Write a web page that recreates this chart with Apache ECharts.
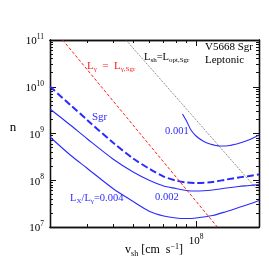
<!DOCTYPE html>
<html><head><meta charset="utf-8">
<script src="https://cdn.jsdelivr.net/npm/echarts@6/dist/echarts.min.js"></script>
<style>html,body{margin:0;padding:0;background:#fff}#c{width:269px;height:269px}</style>
</head><body><div id="c"></div>
<script>
// ---- data ----
const shockVelocity = [2e7,2.5e7,3e7,4e7,5e7,6e7,7e7,8e7,9e7,1e8,1.2e8,1.4e8,1.6e8,1.8e8,2e8];
const nSgr  = [1.01e10,4.11e9,1.98e9,6.42e8,2.92e8,1.74e8,1.20e8,9.88e7,8.95e7,8.73e7,9.18e7,1.04e8,1.15e8,1.23e8,1.33e8];
const n002  = [3.34e9,1.52e9,7.82e8,2.85e8,1.50e8,9.88e7,7.53e7,6.66e7,6.04e7,5.89e7,6.18e7,6.83e7,7.35e7,7.72e7,8.11e7];
const n004  = [8.42e8,3.47e8,1.83e8,6.66e7,3.51e7,2.15e7,1.72e7,1.56e7,1.52e7,1.56e7,1.76e7,2.15e7,2.61e7,3.10e7,3.69e7];
const v001  = [8.61e7,9.05e7,9.45e7,1.0e8,1.079e8,1.166e8,1.30e8,1.45e8,1.62e8,1.81e8,2e8];
const n001  = [2.61e9,1.76e9,1.19e9,8.85e8,6.91e8,5.96e8,5.40e8,5.54e8,6.26e8,7.44e8,9.29e8];
const vGammaSgr = [2.30e7,1.264e8];
const nGammaSgr = [1e11,1e7];
const vOptSgr = [4.62e7,2e8];
const nOptSgr = [1e11,5.7e7];
// axes
const xRange = [2e7,2e8];
const yRange = [1e7,1e11];
const xMajorTicks = [1e8];
const xMinorTicks = [3e7,4e7,5e7,6e7,7e7,8e7,9e7];
const yMajorTicks = [1e7,1e8,1e9,1e10,1e11];
const yMinorTicks = [2e7,3e7,4e7,5e7,6e7,7e7,8e7,9e7,
                     2e8,3e8,4e8,5e8,6e8,7e8,8e8,9e8,
                     2e9,3e9,4e9,5e9,6e9,7e9,8e9,9e9,
                     2e10,3e10,4e10,5e10,6e10,7e10,8e10,9e10];

const FF = 'Liberation Serif';
const BLUE = '#2a2aff';
const RED = '#ff1a1a';
const L10 = Math.log10;
const pair = (xs, ys) => xs.map((x,i)=>[x, ys[i]]);

function rich(fs, color){
  return {
    a:{fontFamily:FF,fontSize:fs,color:color,lineHeight:fs+3,verticalAlign:'middle'},
    s:{fontFamily:FF,fontSize:Math.round(fs*0.65),color:color,lineHeight:fs+3,verticalAlign:'bottom'},
    p:{fontFamily:FF,fontSize:Math.round(fs*0.65),color:color,lineHeight:fs+3,verticalAlign:'top'}
  };
}
function txt(x,y,text,fs,color,align){
  return {type:'text',x:x,y:y,z:100,style:{text:text,rich:rich(fs,color),fontFamily:FF,fontSize:fs,fill:color,align:align||'left',verticalAlign:'middle'}};
}

const axisLineStyle = {color:'#111',width:1.3};
function tickAxis(kind, pos, lo, hi, vals, len, labels){
  const ax = {
    type:'value', position:pos, min:L10(lo), max:L10(hi), gridIndex:0,
    axisLine:{show:true,onZero:false,lineStyle:axisLineStyle},
    axisTick:{show:true,inside:true,length:len,customValues:vals.map(L10),lineStyle:{color:'#111',width:1}},
    axisLabel:{show:!!labels},
    splitLine:{show:false}
  };
  if (labels){
    ax.axisLabel = {show:true, customValues:vals.map(L10), margin:6,
      formatter:v=>'{b|10}{p|'+Math.round(v)+'}',
      rich:{b:{fontFamily:FF,fontSize:11,color:'#000',lineHeight:14,verticalAlign:'bottom'},
            p:{fontFamily:FF,fontSize:7.5,color:'#000',lineHeight:14,verticalAlign:'top'}}};
  }
  return ax;
}

const chart = echarts.init(document.getElementById('c'), null, {renderer:'canvas'});
chart.setOption({
  animation:false,
  backgroundColor:'#fff',
  grid:{left:50,top:40,right:10,bottom:42,containLabel:false},
  xAxis:[
    {type:'log',logBase:10,min:xRange[0],max:xRange[1],show:false},
    tickAxis('x','bottom',xRange[0],xRange[1],xMajorTicks,6,true),
    tickAxis('x','bottom',xRange[0],xRange[1],xMinorTicks,3,false),
    tickAxis('x','top',xRange[0],xRange[1],xMajorTicks,6,false),
    tickAxis('x','top',xRange[0],xRange[1],xMinorTicks,3,false)
  ],
  yAxis:[
    {type:'log',logBase:10,min:yRange[0],max:yRange[1],show:false},
    tickAxis('y','left',yRange[0],yRange[1],yMajorTicks,6,true),
    tickAxis('y','left',yRange[0],yRange[1],yMinorTicks,3,false),
    tickAxis('y','right',yRange[0],yRange[1],yMajorTicks,6,false),
    tickAxis('y','right',yRange[0],yRange[1],yMinorTicks,3,false)
  ],
  series:[
    {type:'line',name:'Sgr',data:pair(shockVelocity,nSgr),showSymbol:false,smooth:0.3,
     lineStyle:{color:BLUE,width:2,type:[7,3]}},
    {type:'line',name:'0.002',data:pair(shockVelocity,n002),showSymbol:false,smooth:0.3,
     lineStyle:{color:BLUE,width:1.1}},
    {type:'line',name:'0.004',data:pair(shockVelocity,n004),showSymbol:false,smooth:0.3,
     lineStyle:{color:BLUE,width:1.1}},
    {type:'line',name:'0.001',data:pair(v001,n001),showSymbol:false,smooth:0.3,
     lineStyle:{color:BLUE,width:1.1}},
    {type:'line',name:'Lgamma',data:pair(vGammaSgr,nGammaSgr),showSymbol:false,
     lineStyle:{color:RED,width:1,type:[3,2]}},
    {type:'line',name:'Lopt',data:pair(vOptSgr,nOptSgr),showSymbol:false,
     lineStyle:{color:'#444',width:0.8,type:[1,1.2]}}
  ],
  graphic:[
    txt(87,66,'{a|L}{s|γ}{a|  =  L}{s|γ,Sgr}',11,RED),
    txt(92,117,'{a|Sgr}',11,BLUE),
    txt(144,57,'{a|L}{s|sh}{a|=L}{s|opt,Sgr}',10.5,'#000'),
    txt(205,47,'{a|V5668 Sgr}',11,'#000'),
    txt(205,60,'{a|Leptonic}',11,'#000'),
    txt(165,131,'{a|0.001}',10.5,BLUE),
    txt(155,197,'{a|0.002}',10.5,BLUE),
    txt(70,198,'{a|L}{s|X}{a|/L}{s|γ}{a|=0.004}',10.5,BLUE),
    txt(13,128,'{a|n}',13,'#000','center'),
    txt(154,250,'{a|v}{s|sh}{a| [cm  s}{p|−1}{a|]}',12,'#000','center')
  ]
});
</script></body></html>
